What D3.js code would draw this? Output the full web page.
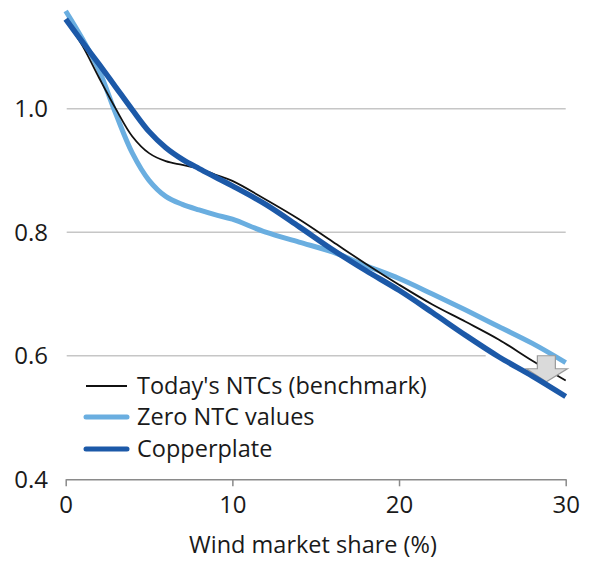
<!DOCTYPE html>
<html><head><meta charset="utf-8">
<script src="https://cdn.jsdelivr.net/npm/d3@7"></script>
<style>body{margin:0;background:#fff}svg{display:block}text{font-family:"Open Sans",sans-serif;fill:#1a1a1a}</style>
</head><body><svg id="c" width="590" height="562"></svg>
<script>
const windShare   = [0, 1, 2, 3, 4, 5, 6, 7, 8, 9, 10, 12, 14, 16, 18, 20, 22, 24, 26, 28, 30];
const todaysNTCs  = [1.143, 1.102, 1.050, 1.000, 0.955, 0.928, 0.915, 0.909, 0.903, 0.893, 0.883, 0.853, 0.821, 0.785, 0.749, 0.715, 0.683, 0.655, 0.626, 0.592, 0.560];
const zeroNTC     = [1.158, 1.113, 1.062, 0.992, 0.928, 0.884, 0.858, 0.845, 0.836, 0.828, 0.821, 0.800, 0.784, 0.768, 0.746, 0.725, 0.700, 0.674, 0.647, 0.620, 0.589];
const copperplate = [1.145, 1.108, 1.072, 1.035, 0.998, 0.963, 0.937, 0.918, 0.903, 0.889, 0.875, 0.845, 0.809, 0.772, 0.738, 0.706, 0.670, 0.633, 0.598, 0.567, 0.534];
const yTicks = [0.4, 0.6, 0.8, 1.0];
const xTicks = [0, 10, 20, 30];
const seriesNames = ["Today's NTCs (benchmark)", "Zero NTC values", "Copperplate"];
const xTitle = "Wind market share (%)";

const svg = d3.select("#c");
const x = d3.scaleLinear().domain([0, 30]).range([65.7, 565.7]);
const y = d3.scaleLinear().domain([0.4, 1.2]).range([479.3, -14.9]);

// gridlines
svg.append("g").selectAll("line").data(yTicks.filter(d => d > 0.4)).join("line")
  .attr("x1", x(0) + 1).attr("x2", x(30)).attr("y1", d => y(d)).attr("y2", d => y(d))
  .attr("stroke", "#c6c6c6").attr("stroke-width", 1.5);
// gap in 0.6 gridline near arrow
svg.append("rect").attr("x", x(25.2)).attr("y", y(0.6) - 3).attr("width", x(30) - x(25.2) + 3).attr("height", 6).attr("fill", "#fff");

// y labels
svg.append("g").selectAll("text").data(yTicks).join("text")
  .attr("x", 48).attr("y", d => y(d)).attr("dy", "0.36em").attr("text-anchor", "end")
  .attr("font-size", 24).text(d => d.toFixed(1));

// x axis
const xAxis = d3.axisBottom(x).tickValues(xTicks).tickSize(7).tickSizeOuter(0).tickPadding(10);
const gx = svg.append("g").attr("transform", `translate(0,${y(0.4)})`).call(xAxis);
gx.select(".domain").attr("stroke", "#8a8a8a").attr("stroke-width", 1.5);
gx.selectAll(".tick line").attr("stroke", "#8a8a8a").attr("stroke-width", 1.5);
gx.selectAll(".tick text").attr("font-size", 24).attr("font-family", '"Open Sans",sans-serif').attr("fill", "#1a1a1a");

svg.append("text").attr("x", 313).attr("y", 553).attr("text-anchor", "middle").attr("font-size", 23.5).text(xTitle);

const line = d3.line().x((d, i) => x(windShare[i])).y(d => y(d)).curve(d3.curveCatmullRom.alpha(0.5));
const colors = ["#111111", "#6aaee0", "#1c59a8"];
const widths = [1.8, 5, 5.5];

svg.append("path").attr("d", line(zeroNTC)).attr("fill", "none").attr("stroke", colors[1]).attr("stroke-width", widths[1]);
svg.append("path").attr("d", line(todaysNTCs)).attr("fill", "none").attr("stroke", colors[0]).attr("stroke-width", widths[0]);

// arrow marker
const ax = x(28.9), ay = y(0.6);
const arrowPts = [[ax - 10, ay], [ax + 8, ay], [ax + 8, ay + 13], [ax + 20, ay + 13], [ax - 1, ay + 26], [ax - 21, ay + 13], [ax - 10, ay + 13]];
svg.append("path").attr("d", "M" + arrowPts.map(p => p.join(",")).join("L") + "Z")
  .attr("fill", "#dadada").attr("stroke", "#9a9a9a").attr("stroke-width", 1.2);

svg.append("path").attr("d", line(copperplate)).attr("fill", "none").attr("stroke", colors[2]).attr("stroke-width", widths[2]);

// legend
const lg = svg.append("g");
const ly = [386, 417, 449];
seriesNames.forEach((n, i) => {
  lg.append("line").attr("x1", 86).attr("x2", 127).attr("y1", ly[i]).attr("y2", ly[i])
    .attr("stroke", colors[i]).attr("stroke-width", i === 0 ? 2 : 5).attr("stroke-linecap", i === 0 ? "butt" : "round");
  lg.append("text").attr("x", 137).attr("y", ly[i] + 8).attr("font-size", 23.5).text(n);
});
</script></body></html>
